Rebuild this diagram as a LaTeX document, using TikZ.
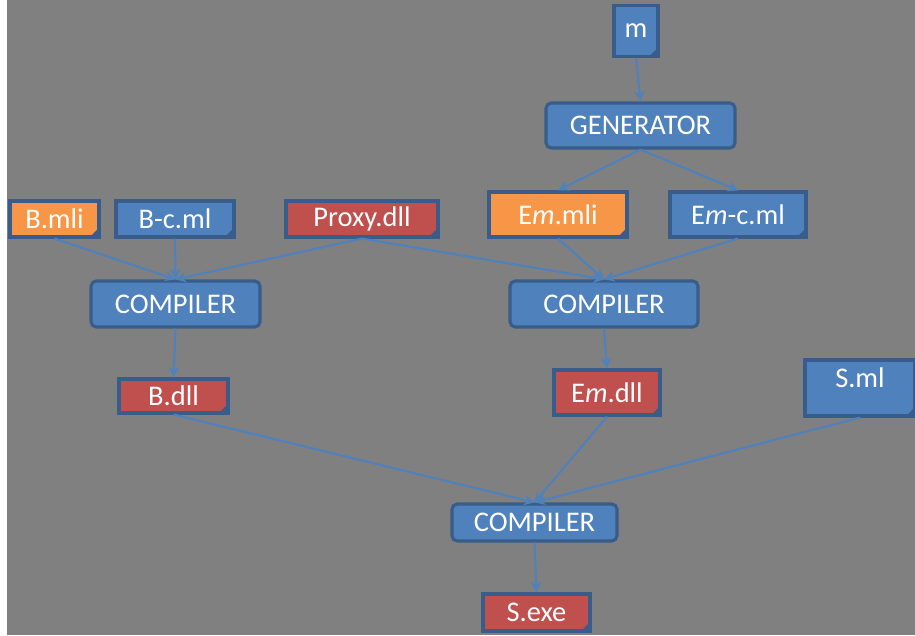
\documentclass[tikz,border=0pt]{standalone}
\usepackage{fontspec}
\setmainfont{Carlito}
\usetikzlibrary{arrows.meta}

\definecolor{bgray}{HTML}{808080}
\definecolor{msblue}{HTML}{4F81BD}
\definecolor{msedge}{HTML}{385D8A}
\definecolor{msorange}{HTML}{F79646}
\definecolor{msred}{HTML}{C0504D}

\begin{document}
\begin{tikzpicture}[
      x=0.02cm, y=-0.02cm,
      box/.style={
         draw=msedge,
         line width=1.8pt,
         text=white,
         inner sep=0pt,
         font=\fontsize{16.2}{19}\selectfont},
      tool/.style={box, fill=msblue, rounded corners=3pt},
      doc/.style={box, fill=#1,
         path picture={
            \fill[msedge] ([xshift=-0.18cm]path picture bounding box.south east)
               -- ([yshift=0.18cm]path picture bounding box.south east)
               -- (path picture bounding box.south east) -- cycle;}},
      doc/.default=msblue,
      myarrow/.style={-{Stealth[length=6pt,width=6pt]}, draw=msblue, line width=1.2pt}
      ]
      % background with the thin white strip on the left
      \fill[white] (0,0) rectangle (915,635);
      \fill[bgray] (7,0) rectangle (915,635);
      \useasboundingbox (0,0) rectangle (915,635);

      \node[doc, minimum width=0.88cm, minimum height=1.02cm] (m) at (636,31) {m};
      \node[tool, minimum width=3.78cm, minimum height=0.9cm] (gen) at (640.5,125.5) {GENERATOR};
      \node[doc=msorange, minimum width=2.76cm, minimum height=0.9cm] (emmli) at (558,214.5) {E\textit{m}.mli};
      \node[doc, minimum width=2.72cm, minimum height=0.9cm] (emc) at (738,214.5) {E\textit{m}-c.ml};

      \node[doc=msorange, minimum width=1.78cm, minimum height=0.72cm] (bmli) at (54.5,219) {B.mli};
      \node[doc, minimum width=2.36cm, minimum height=0.72cm] (bc) at (175,219) {B-c.ml};
      \node[doc=msred, minimum width=3.04cm, minimum height=0.72cm] (proxy) at (362,219) {Proxy.dll};

      \node[tool, minimum width=3.38cm, minimum height=0.92cm] (compL) at (175.5,304) {COMPILER};
      \node[tool, minimum width=3.76cm, minimum height=0.92cm] (compR) at (604,304) {COMPILER};

      \node[doc=msred, minimum width=2.18cm, minimum height=0.68cm] (bdll) at (173.5,396) {B.dll};
      \node[doc=msred, minimum width=2.12cm, minimum height=0.9cm] (emdll) at (607,392.5) {E\textit{m}.dll};
      \node[doc, minimum width=2.2cm, minimum height=1.12cm, text depth=0.42cm] (sml) at (860,388) {S.ml};

      \node[tool, minimum width=3.3cm, minimum height=0.74cm] (compB) at (534.5,522.5) {COMPILER};
      \node[doc=msred, minimum width=2.14cm, minimum height=0.74cm] (sexe) at (536.5,612.5) {S.exe};

    \foreach \i/\j in {% from/to
      m/gen, gen/emmli, gen/emc,
      bmli/compL, bc/compL, proxy/compL,
      proxy/compR, emmli/compR, emc/compR,
      compL/bdll, compR/emdll,
      bdll/compB, emdll/compB, sml/compB,
      compB/sexe}
       \draw[myarrow] (\i.south) -- (\j.north);

    \end{tikzpicture}
\end{document}
